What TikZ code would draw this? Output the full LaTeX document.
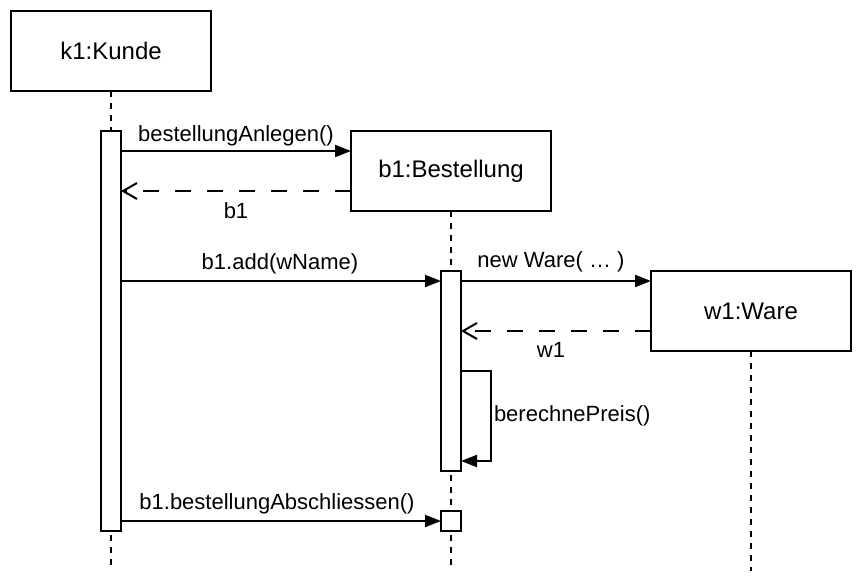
\documentclass[tikz,border=0pt]{standalone}
\usepackage{fontspec}
\setmainfont{Liberation Sans}
\usetikzlibrary{arrows.meta}

\begin{document}
\begin{tikzpicture}[x=1pt,y=-1pt,line width=2pt,
  obj/.style={draw,fill=white,minimum width=200pt,minimum height=80pt,inner sep=0pt,outer sep=0pt,font=\fontsize{24}{28}\selectfont},
  act/.style={draw,fill=white,minimum width=20pt,inner sep=0pt,outer sep=0pt},
  life/.style={dash pattern=on 6pt off 6pt},
  msg/.style={-{Triangle[length=16pt,width=12pt]}},
  ret/.style={dash pattern=on 16pt off 16pt,-{Straight Barb[length=14pt,width=16pt]}},
  lbl/.style={font=\fontsize{22}{26}\selectfont,inner sep=0pt,anchor=base}]
\useasboundingbox (0,0) rectangle (862,584);

\node[obj] (k1) at (111,51) {k1:Kunde};
\node[obj] (b1) at (451,171) {b1:Bestellung};
\node[obj] (w1) at (751,311) {w1:Ware};

\coordinate (k1end) at (111,565);
\coordinate (b1end) at (451,565);
\coordinate (w1end) at (751,571);
\draw[life] (k1.south) -- (k1end);
\draw[life] (b1.south) -- (b1end);
\draw[life] (w1.south) -- (w1end);

\node[act,minimum height=400pt] (ak1) at (111,331) {};
\node[act,minimum height=200pt] (ab1) at (451,371) {};
\node[act,minimum height=20pt] (ab2) at (451,521) {};

\draw[msg] ([yshift=-20pt]ak1.north east) -- ([yshift=-20pt]b1.north west)
  node[lbl,midway,yshift=10pt] {bestellungAnlegen()};
\draw[ret] ([yshift=20pt]b1.south west) -- ([yshift=-60pt]ak1.north east)
  node[lbl,midway,yshift=-27pt] {b1};
\draw[msg] ([yshift=-150pt]ak1.north east) -- ([yshift=-10pt]ab1.north west)
  node[lbl,midway,xshift=-1pt,yshift=12pt] {b1.add(wName)};
\draw[msg] ([yshift=-10pt]ab1.north east) -- ([yshift=-10pt]w1.north west)
  node[lbl,midway,xshift=-5pt,yshift=14pt] {new Ware( … )};
\draw[ret] ([yshift=20pt]w1.south west) -- ([yshift=-60pt]ab1.north east)
  node[lbl,midway,xshift=-5pt,yshift=-26pt] {w1};
\draw[msg] ([yshift=-100pt]ab1.north east) -- ++(30,0) |- ([yshift=10pt]ab1.south east)
  node[lbl,pos=0.25,anchor=west,inner sep=2pt] {berechnePreis()};
\draw[msg] ([yshift=-390pt]ak1.north east) -- (ab2.west)
  node[lbl,midway,xshift=-4pt,yshift=12pt] {b1.bestellungAbschliessen()};
\end{tikzpicture}
\end{document}
